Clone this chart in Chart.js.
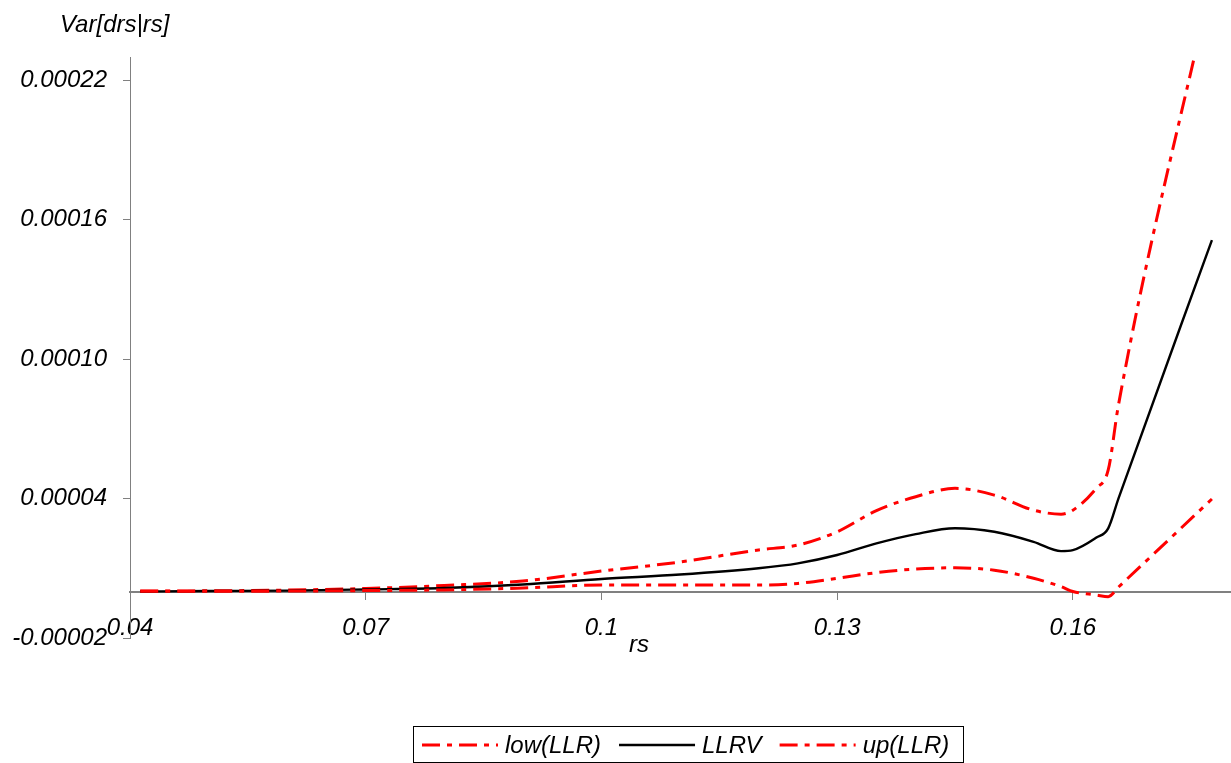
<!DOCTYPE html>
<html><head><meta charset="utf-8">
<script src="https://cdn.jsdelivr.net/npm/chart.js@4.4.1/dist/chart.umd.min.js"></script>
<style>html,body{margin:0;padding:0;background:#fff}#wrap{width:1231px;height:763px;position:relative}</style>
</head><body><div id="wrap"><canvas id="c"></canvas></div>
<script>
// ---- data ----
const rsValues   = [0.0413, 0.05, 0.06, 0.07, 0.08, 0.09, 0.10, 0.11, 0.12, 0.125, 0.13, 0.135, 0.14, 0.145, 0.15, 0.155, 0.1585, 0.16, 0.163, 0.1645, 0.1658, 0.1777];
const llrvValues = [0.0e-6, 0.2e-6, 0.4e-6, 0.9e-6, 1.5e-6, 3.0e-6, 5.4e-6, 7.3e-6, 10.0e-6, 12.1e-6, 15.7e-6, 20.7e-6, 24.7e-6, 27.2e-6, 25.7e-6, 21.4e-6, 17.4e-6, 17.8e-6, 23.2e-6, 27.2e-6, 40.0e-6, 151.2e-6];
const upValues   = [0.2e-6, 0.3e-6, 0.6e-6, 1.3e-6, 2.6e-6, 4.5e-6, 8.8e-6, 12.7e-6, 17.9e-6, 20.0e-6, 25.7e-6, 34.8e-6, 40.8e-6, 44.4e-6, 41.5e-6, 35.0e-6, 33.3e-6, 35.0e-6, 44.5e-6, 52.3e-6, 80.2e-6, 263.4e-6];
const lowValues  = [0.1e-6, 0.1e-6, 0.2e-6, 0.4e-6, 0.7e-6, 1.5e-6, 2.8e-6, 2.8e-6, 2.8e-6, 3.5e-6, 5.7e-6, 8.1e-6, 9.7e-6, 10.2e-6, 9.2e-6, 5.7e-6, 2.1e-6, 0.0e-6, -1.5e-6, -2.2e-6, 1.9e-6, 39.8e-6];
const xTickValues = [0.04, 0.07, 0.1, 0.13, 0.16];
const xTickLabels = ['0.04', '0.07', '0.1', '0.13', '0.16'];
const yTickValues = [-0.00002, 0.00004, 0.0001, 0.00016, 0.00022];
const yTickLabels = ['-0.00002', '0.00004', '0.00010', '0.00016', '0.00022'];
const seriesNames = ['low(LLR)', 'LLRV', 'up(LLR)'];
const xTitle = 'rs';
const yTitle = 'Var[drs|rs]';

// ---- chart ----
const FONT = '"Liberation Sans", Arial, sans-serif';
const toPts = (ys) => rsValues.map((x, i) => ({x: x, y: ys[i]}));
const RED_DASH = [18, 7, 5, 7];

const extras = {
  id: 'extras',
  afterDraw(chart) {
    const ctx = chart.ctx;
    ctx.save();
    ctx.fillStyle = '#000';
    ctx.font = 'italic 24px ' + FONT;
    ctx.textBaseline = 'alphabetic';
    ctx.textAlign = 'left';
    ctx.fillText(yTitle, 60, 32);
    ctx.fillText(xTitle, 629, 652);
    // legend
    const bx = 413.5, by = 726.5, bw = 550, bh = 36;
    ctx.strokeStyle = '#000';
    ctx.lineWidth = 1;
    ctx.setLineDash([]);
    ctx.strokeRect(bx, by, bw, bh);
    const cy = 745;
    let x = 422;
    ctx.textBaseline = 'middle';
    chart.data.datasets.forEach((ds) => {
      ctx.save();
      ctx.strokeStyle = ds.borderColor;
      ctx.lineWidth = ds.borderWidth;
      ctx.setLineDash(ds.borderDash || []);
      ctx.beginPath();
      ctx.moveTo(x, cy);
      ctx.lineTo(x + 76, cy);
      ctx.stroke();
      ctx.restore();
      x += 83;
      ctx.fillStyle = '#000';
      ctx.fillText(ds.label, x, cy + 1);
      x += ctx.measureText(ds.label).width + 18;
    });
    ctx.restore();
  }
};

new Chart(document.getElementById('c'), {
  type: 'line',
  data: {
    datasets: [
      {label: seriesNames[0], data: toPts(lowValues), borderColor: '#ff0000', borderWidth: 3, borderDash: RED_DASH, pointRadius: 0, fill: false, cubicInterpolationMode: 'monotone'},
      {label: seriesNames[1], data: toPts(llrvValues), borderColor: '#000000', borderWidth: 2.4, pointRadius: 0, fill: false, cubicInterpolationMode: 'monotone'},
      {label: seriesNames[2], data: toPts(upValues), borderColor: '#ff0000', borderWidth: 3, borderDash: RED_DASH, pointRadius: 0, fill: false, cubicInterpolationMode: 'monotone'}
    ]
  },
  options: {
    responsive: true,
    maintainAspectRatio: false,
    devicePixelRatio: 1,
    animation: false,
    events: [],
    layout: {padding: {left: 0, right: 1, top: 57, bottom: 125}},
    plugins: {legend: {display: false}, title: {display: false}, tooltip: {enabled: false}},
    scales: {
      x: {
        type: 'linear',
        min: 0.04, max: 0.18,
        position: {y: 0},
        afterFit(s) { s.height = 0; },
        afterBuildTicks(s) { s.ticks = xTickValues.map(v => ({value: v})); },
        ticks: {
          padding: 15,
          color: '#000',
          font: {family: FONT, size: 24, style: 'italic'},
          maxRotation: 0,
          autoSkip: false,
          callback: (v, i) => xTickLabels[i]
        },
        grid: {drawOnChartArea: false, drawTicks: true, tickLength: 7, color: '#808080', lineWidth: 1},
        border: {display: true, color: '#808080', width: 2}
      },
      y: {
        type: 'linear',
        min: -0.00002, max: 0.00023,
        afterFit(s) { s.width = 130; },
        afterBuildTicks(s) { s.ticks = yTickValues.map(v => ({value: v})); },
        ticks: {
          padding: 16,
          color: '#000',
          font: {family: FONT, size: 24, style: 'italic'},
          autoSkip: false,
          callback: (v, i) => yTickLabels[i]
        },
        grid: {drawOnChartArea: false, drawTicks: true, tickLength: 7, color: '#808080', lineWidth: 1},
        border: {display: true, color: '#808080', width: 1}
      }
    }
  },
  plugins: [extras]
});
</script></body></html>
